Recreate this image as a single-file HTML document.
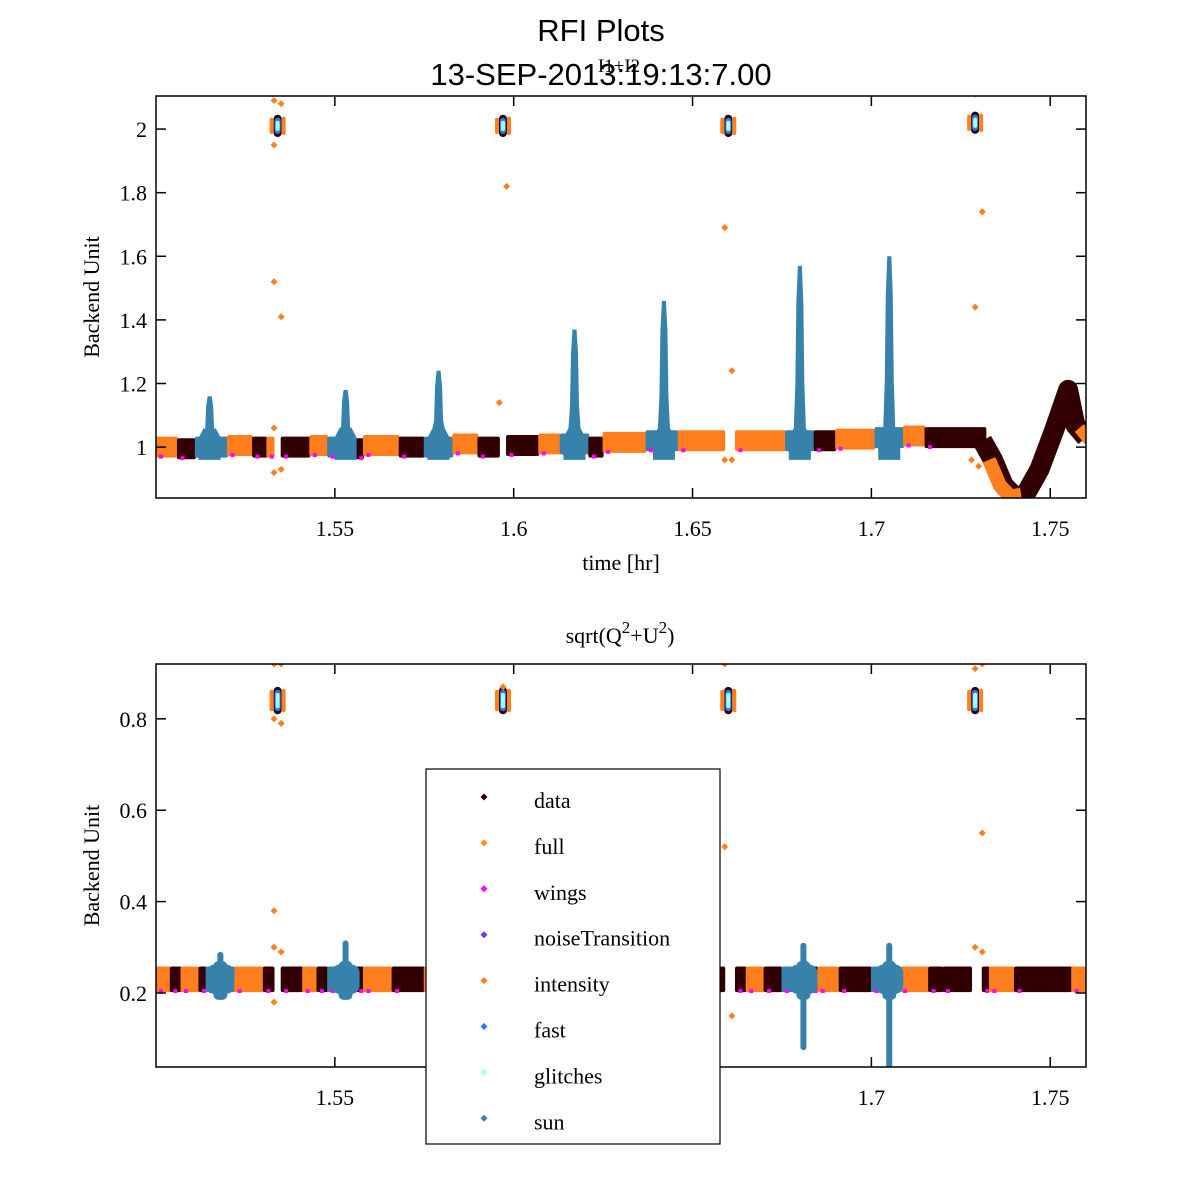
<!DOCTYPE html>
<html><head><meta charset="utf-8"><style>
html,body{margin:0;padding:0;background:#fff;}
svg{display:block;}
.serif{font-family:"Liberation Serif",serif;}
.sans{font-family:"Liberation Sans",sans-serif;}
</style></head><body>
<svg id="fig" width="1200" height="1200" xmlns="http://www.w3.org/2000/svg">
<rect width="1200" height="1200" fill="#fff"/>
<text x="601" y="41" text-anchor="middle" class="sans" font-size="31">RFI Plots</text>
<text x="601" y="85" text-anchor="middle" class="sans" font-size="31">13-SEP-2013:19:13:7.00</text>
<text x="619" y="72" text-anchor="middle" class="serif" font-size="19">I1+I2</text>
<text x="620" y="643" text-anchor="middle" class="serif" font-size="22">sqrt(Q<tspan dy="-10" font-size="17">2</tspan><tspan dy="10">+U</tspan><tspan dy="-10" font-size="17">2</tspan><tspan dy="10">)</tspan></text>
<g id="top"></g>
<g id="bot"></g>
<g id="legend"></g>
</svg>
<script>
// ---- data ----
const COLORS = {data:'#330000', full:'#ff8c1a', wings:'#ff00ff', noiseTransition:'#7733ff', intensity:'#ff7f1e', fast:'#1a80ff', glitches:'#aaffff', sun:'#3682aa'};
const legendNames = ['data','full','wings','noiseTransition','intensity','fast','glitches','sun'];
const xTicks = [1.55,1.6,1.65,1.7,1.75];
const topYTicks = [1,1.2,1.4,1.6,1.8,2];
const botYTicks = [0.2,0.4,0.6,0.8];

// top band segments
const topSegStart = [1.500,1.506,1.511,1.520,1.527,1.531,1.535,1.543,1.548,1.556,1.558,1.568,1.575,1.583,1.590,1.598,1.607,1.613,1.621,1.625,1.637,1.646,1.662,1.676,1.684,1.690,1.701,1.709,1.715];
const topSegEnd   = [1.506,1.511,1.520,1.527,1.531,1.533,1.543,1.548,1.556,1.558,1.568,1.575,1.583,1.590,1.596,1.607,1.613,1.621,1.625,1.637,1.646,1.659,1.676,1.684,1.690,1.701,1.709,1.715,1.732];
const topSegCat   = ['intensity','data','sun','intensity','data','intensity','data','intensity','sun','data','intensity','data','sun','intensity','data','data','intensity','sun','data','intensity','sun','intensity','intensity','sun','data','intensity','sun','intensity','data'];
const topSegLevel = [1.0,0.995,1.0,1.005,1.0,1.0,1.0,1.005,1.0,0.995,1.005,1.0,1.0,1.01,1.0,1.005,1.01,1.01,1.0,1.015,1.02,1.02,1.02,1.02,1.02,1.025,1.03,1.035,1.03];
const topPeakT = [1.515,1.553,1.579,1.617,1.642,1.680,1.705];
const topPeakV = [1.16,1.18,1.24,1.37,1.46,1.57,1.60];
const dipT = [1.731,1.734,1.737,1.740,1.743,1.747,1.751,1.755,1.757,1.760];
const dipV = [1.02,0.96,0.88,0.845,0.85,0.93,1.05,1.18,1.07,1.03];
const glitchT = [1.534,1.597,1.660,1.729];
const topGlitchV = [2.01,2.01,2.01,2.02];
const topOutT = [1.533,1.535,1.533,1.533,1.535,1.533,1.535,1.533,1.598,1.596,1.659,1.661,1.659,1.661,1.729,1.731,1.729,1.728,1.730];
const topOutV = [2.09,2.08,1.95,1.52,1.41,0.92,0.93,1.06,1.82,1.14,1.69,1.24,0.96,0.96,2.11,1.74,1.44,0.96,0.94];

// bottom band segments
const botSegStart = [1.500,1.504,1.507,1.512,1.514,1.522,1.530,1.535,1.541,1.545,1.548,1.556,1.558,1.566,1.575,1.585,1.598,1.610,1.625,1.640,1.662,1.665,1.670,1.675,1.683,1.685,1.691,1.700,1.708,1.716,1.720,1.731,1.733,1.740,1.756];
const botSegEnd   = [1.504,1.507,1.512,1.514,1.522,1.530,1.533,1.541,1.545,1.548,1.556,1.558,1.566,1.575,1.585,1.596,1.610,1.625,1.640,1.659,1.665,1.670,1.675,1.683,1.685,1.691,1.700,1.708,1.716,1.720,1.728,1.733,1.740,1.756,1.760];
const botSegCat   = ['intensity','data','intensity','data','sun','intensity','data','data','intensity','data','sun','data','intensity','data','intensity','data','intensity','data','intensity','data','data','intensity','data','sun','data','intensity','data','sun','intensity','data','data','data','intensity','data','intensity'];
const botPeakT = [1.518,1.553,1.681,1.705];
const botPeakTop = [0.29,0.315,0.31,0.31];
const botPeakBot = [0.19,0.20,0.075,0.035];
const botGlitchV = [0.84,0.84,0.84,0.84];
const botOutT = [1.533,1.535,1.533,1.535,1.533,1.533,1.535,1.533,1.597,1.659,1.659,1.661,1.729,1.731,1.731,1.729,1.731];
const botOutV = [0.92,0.92,0.80,0.79,0.38,0.30,0.29,0.18,0.87,0.92,0.52,0.15,0.91,0.92,0.55,0.30,0.29];

// ---- helpers ----
const NS='http://www.w3.org/2000/svg';
function mk(parent,tag,attrs){const e=document.createElementNS(NS,tag);for(const k in attrs)e.setAttribute(k,attrs[k]);parent.appendChild(e);return e;}
const X0=156,X1=1086,T0=1.5,T1=1.76;
function sx(t){return X0+(t-T0)/(T1-T0)*(X1-X0);}
function makeY(top,bottom,vTop,vBot){return v=>top+(vTop-v)/(vTop-vBot)*(bottom-top);}

function drawAxes(g,top,bottom,sy,yTicks,fmt,xlabel){
  const clipId='clip'+top;
  const cp=mk(g,'clipPath',{id:clipId});mk(cp,'rect',{x:X0,y:top,width:X1-X0,height:bottom-top});
  const plot=mk(g,'g',{'clip-path':'url(#'+clipId+')'});
  
  
  const frame=mk(g,'rect',{x:X0,y:top,width:X1-X0,height:bottom-top,fill:'none',stroke:'#000','stroke-width':1.5});
  
  
  xTicks.forEach(t=>{const x=sx(t);
    mk(g,'line',{x1:x,x2:x,y1:bottom,y2:bottom-10,stroke:'#000','stroke-width':1.5});
    mk(g,'line',{x1:x,x2:x,y1:top,y2:top+10,stroke:'#000','stroke-width':1.5});
    const tx=mk(g,'text',{x:x,y:bottom+38,'text-anchor':'middle','font-size':22,class:'serif'});tx.textContent=String(t);
    
    
  });
  yTicks.forEach(v=>{const y=sy(v);
    mk(g,'line',{x1:X0,x2:X0+10,y1:y,y2:y,stroke:'#000','stroke-width':1.5});
    mk(g,'line',{x1:X1,x2:X1-10,y1:y,y2:y,stroke:'#000','stroke-width':1.5});
    const tx=mk(g,'text',{x:X0-9,y:y+8,'text-anchor':'end','font-size':22,class:'serif'});tx.textContent=fmt(v);
    
    
  });
  const cy=(top+bottom)/2;
  const yl=mk(g,'text',{x:0,y:0,transform:`translate(99,${cy}) rotate(-90)`,'text-anchor':'middle','font-size':22,class:'serif'});yl.textContent='Backend Unit';
  
  
  if(xlabel){const xl=mk(g,'text',{x:(X0+X1)/2,y:bottom+72,'text-anchor':'middle','font-size':22,class:'serif'});xl.textContent=xlabel;
    
    }
  return plot;
}
function band(plot,st,en,cats,levels,sy,half){
  for(let i=0;i<st.length;i++){
    const y1=sy(levels[i]+half),y2=sy(levels[i]-half);
    const r=mk(plot,'rect',{x:sx(st[i])-0.5,y:y1,width:sx(en[i])-sx(st[i])+1,height:y2-y1,fill:COLORS[cats[i]],rx:2});
    
    
    mk(plot,'rect',{x:sx(st[i])+3,y:y2-3,width:4,height:4,fill:COLORS.wings});
  }
}
function dot(plot,x,y,c,name){const d=mk(plot,'path',{d:`M${x-3.5},${y}L${x},${y-3.5}L${x+3.5},${y}L${x},${y+3.5}Z`,fill:c});
  
  }
function glitch(plot,t,v,sy,half){
  const x=sx(t),y1=sy(v+half),y2=sy(v-half);
  const a=mk(plot,'rect',{x:x-4,y:y1,width:8,height:y2-y1,fill:COLORS.data,rx:4});
  
  
  mk(plot,'rect',{x:x-3,y:y1+3,width:6,height:y2-y1-6,fill:COLORS.fast,rx:3});
  mk(plot,'rect',{x:x-2,y:y1+6,width:4,height:y2-y1-12,fill:COLORS.glitches,rx:2});
  mk(plot,'rect',{x:x+4,y:y1+2,width:4,height:y2-y1-4,fill:COLORS.intensity,rx:2});
  mk(plot,'rect',{x:x-8,y:y1+3,width:4,height:y2-y1-6,fill:COLORS.intensity,rx:2});
}

// ---- top ----
(function(){
  const g=document.getElementById('top');
  const top=96,bottom=498,sy=makeY(top,bottom,2.104,0.84);
  const plot=drawAxes(g,top,bottom,sy,topYTicks,v=>String(v),'time [hr]');
  band(plot,topSegStart,topSegEnd,topSegCat,topSegLevel,sy,0.033);
  topPeakT.forEach((t,i)=>{
    const base=1.0,h=topPeakV[i]-base,xm=sx(t);
    const pts=[[-11,base-0.04],[-11,base+0.03],[-6,base+0.06],[-4.5,base+0.35*h],[-3.5,base+0.8*h],[-2,topPeakV[i]],[2,topPeakV[i]],[3.5,base+0.8*h],[4.5,base+0.35*h],[6,base+0.06],[11,base+0.03],[11,base-0.04]];
    const p=mk(plot,'path',{d:'M'+pts.map(q=>(xm+q[0])+','+sy(q[1])).join('L')+'Z',fill:COLORS.sun});
    
    
  });
  let pts=dipT.map((t,i)=>sx(t)+','+sy(dipV[i])).join(' ');
  const dl=mk(plot,'polyline',{points:pts,fill:'none',stroke:COLORS.data,'stroke-width':20,'stroke-linejoin':'round'});
  
  
  let pts2=dipT.slice(1,5).map((t,i)=>(sx(t)-4)+','+sy(dipV[i+1])).join(' ');
  mk(plot,'polyline',{points:pts2,fill:'none',stroke:COLORS.intensity,'stroke-width':14,'stroke-linejoin':'round'});
  mk(plot,'polyline',{points:dipT.slice(8).map((t,i)=>(sx(t)+4)+','+sy(dipV[i+8]-0.01)).join(' '),fill:'none',stroke:COLORS.intensity,'stroke-width':12});
  glitchT.forEach((t,i)=>glitch(plot,t,topGlitchV[i],sy,0.035));
  topOutT.forEach((t,i)=>dot(plot,sx(t),sy(topOutV[i]),COLORS.intensity,'outlier-point'));
})();

// ---- bottom ----
(function(){
  const g=document.getElementById('bot');
  const top=664,bottom=1067,sy=makeY(top,bottom,0.92,0.038);
  const plot=drawAxes(g,top,bottom,sy,botYTicks,v=>v.toFixed(1),null);
  band(plot,botSegStart,botSegEnd,botSegCat,botSegStart.map(()=>0.23),sy,0.028);
  botPeakT.forEach((t,i)=>{
    const x=sx(t);
    const a=mk(plot,'rect',{x:x-3,y:sy(botPeakTop[i]),width:6,height:sy(botPeakBot[i])-sy(botPeakTop[i]),fill:COLORS.sun,rx:3});
    
    
    mk(plot,'rect',{x:x-14,y:sy(0.262),width:28,height:sy(0.198)-sy(0.262),fill:COLORS.sun,rx:8});
    mk(plot,'rect',{x:x-7,y:sy(0.27),width:14,height:sy(0.185)-sy(0.27),fill:COLORS.sun,rx:5});
  });
  glitchT.forEach((t,i)=>glitch(plot,t,botGlitchV[i],sy,0.03));
  botOutT.forEach((t,i)=>dot(plot,sx(t),sy(botOutV[i]),COLORS.intensity,'outlier-point'));
})();

// ---- legend ----
(function(){
  const g=document.getElementById('legend');
  mk(g,'rect',{x:426,y:769,width:294,height:375,fill:'#fff',stroke:'#000','stroke-width':1.2});
  legendNames.forEach((n,i)=>{
    const y=800+i*45.9;
    const e=mk(g,'g',{});
    
    
    dot(e,484,y-3,COLORS[n],'legend-marker');
    const t=mk(e,'text',{x:534,y:y+8,'font-size':22,class:'serif'});t.textContent=n;
  });
})();
</script>
</body></html>
